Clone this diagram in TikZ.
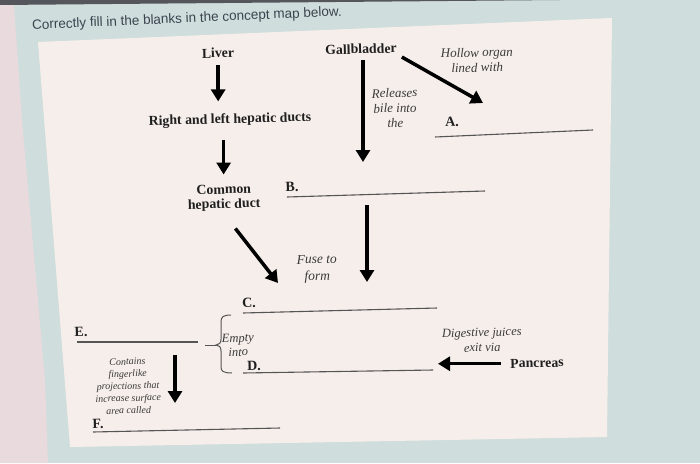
\documentclass[tikz,border=0pt]{standalone}
\usepackage{fontspec}
\setmainfont{Liberation Serif}
\newfontfamily\titlefont{Liberation Sans}
\usetikzlibrary{arrows.meta}
\definecolor{screenblue}{HTML}{CFDDDC}
\definecolor{pinkedge}{HTML}{E9DBDD}
\definecolor{paper}{HTML}{F6EEEA}
\definecolor{darkstrip}{HTML}{55565B}
\definecolor{blankgray}{HTML}{555555}
\definecolor{linkgray}{HTML}{3A3A3A}
\definecolor{titlegray}{HTML}{3C4450}
\begin{document}
\begin{tikzpicture}[x=1pt,y=-1pt,
  bigarrow/.style={line width=3.5pt,-{Triangle[length=12pt,width=14pt]}},
  blank/.style={line width=1.1pt,color=blankgray},
  term/.style={font=\fontsize{13.8}{14.5}\selectfont\bfseries,text=black!88,align=center,rotate=1.5,inner sep=1pt},
  link/.style={font=\fontsize{13}{15}\selectfont\itshape,text=linkgray,align=center,rotate=1.5,inner sep=1pt},
  letter/.style={font=\fontsize{14}{15}\selectfont\bfseries,text=black!88,rotate=1.5,inner sep=0pt}]
\useasboundingbox (0,0) rectangle (700,463);
% screen and page
\fill[screenblue] (0,0) rectangle (700,463);
\fill[darkstrip] (0,0) -- (560,0) -- (0,5) -- cycle;
\fill[pinkedge] (0,5) -- (14,5) -- (22,120) -- (45,380) -- (48,463) -- (0,463) -- cycle;
\fill[paper] (38,42) -- (612,18) -- (607,437) -- (70,447) -- cycle;
\node[anchor=west,rotate=2.5,inner sep=0pt,text=titlegray,font=\titlefont\fontsize{13.5}{15}\selectfont] (title) at (32,26) {Correctly fill in the blanks in the concept map below.};
% concepts
\node[term] (liver) at (218,53) {Liver};
\node[term] (ducts) at (230,120) {Right and left hepatic ducts};
\node[term] (common) at (224,198) {Common\\hepatic duct};
\node[term] (gall) at (361,49) {Gallbladder};
\node[term] (pancreas) at (537,363) {Pancreas};
% linking words
\node[link] (hollow) at (477,60) {Hollow organ\\lined with};
\node[link] (releases) at (395,108) {Releases\\bile into\\the};
\node[link,font=\fontsize{13.5}{17}\selectfont\itshape] (fuse) at (317,269) {Fuse to\\form};
\node[link,font=\fontsize{12.5}{14}\selectfont\itshape] (empty) at (238,345) {Empty\\into};
\node[link,font=\fontsize{12.5}{15}\selectfont\itshape] (digest) at (482,340) {Digestive juices\\exit via};
\node[link,font=\fontsize{10}{12.2}\selectfont\itshape] (contains) at (128,386) {Contains\\fingerlike\\projections that\\increase surface\\area called};
% blanks
\node[letter] (A) at (452,122) {A.};
\node[letter] (B) at (292,187) {B.};
\node[letter] (C) at (249,303) {C.};
\node[letter] (D) at (254,366) {D.};
\node[letter] (E) at (81,332) {E.};
\node[letter] (F) at (98,424) {F.};
\coordinate (A0) at (435,137); \coordinate (A1) at (593,130);
\coordinate (B0) at (287,197); \coordinate (B1) at (485,191);
\coordinate (C0) at (243,313); \coordinate (C1) at (437,308);
\coordinate (D0) at (243,373); \coordinate (D1) at (433,370);
\coordinate (E0) at (77,342);  \coordinate (E1) at (198,342);
\coordinate (F0) at (93,432);  \coordinate (F1) at (280,428);
\draw[blank] (A0) -- (A1);
\draw[blank] (B0) -- (B1);
\draw[blank] (C0) -- (C1);
\draw[blank] (D0) -- (D1);
\draw[blank] (E0) -- (E1);
\draw[blank] (F0) -- (F1);
% brace
\coordinate (brace) at (216,345);
\draw[blank,line width=1pt] ([xshift=7pt,yshift=-3pt]E1) -- (brace);
\draw[blank,line width=1pt] (231,315) .. controls (223,315) and (221,317) .. (221,322) -- (221,339) .. controls (221,343) and (219,345) .. (brace) .. controls (219,345) and (221,347) .. (221,351) -- (221,367) .. controls (221,371) and (223,373) .. (232,373);
% arrows
\coordinate (Ctip) at (278,283);
\coordinate (Btip) at (363,162);
\coordinate (Atip) at (483,103);
\coordinate (Bdrop) at (367,205);
\coordinate (Cdrop) at (367,282);
\coordinate (Edrop) at (175,355);
\coordinate (Fdrop) at (175,403);
\draw[bigarrow,shorten <=6pt,shorten >=11pt] (liver.south) -- (liver.south |- ducts.north);
\draw[bigarrow,shorten <=12pt,shorten >=9pt] (common.north |- ducts.south) -- (common.north);
\draw[bigarrow] ([shift={(11,16)}]common.south) -- (Ctip);
\draw[bigarrow,shorten <=5pt] (gall.south -| Btip) -- (Btip);
\draw[bigarrow] ([shift={(4,9)}]gall.east) -- (Atip);
\draw[bigarrow] (Bdrop) -- (Cdrop);
\draw[bigarrow,shorten <=8pt,shorten >=5pt] (pancreas.west) -- (pancreas.west -| D1);
\draw[bigarrow] (Edrop) -- (Fdrop);
\end{tikzpicture}
\end{document}
